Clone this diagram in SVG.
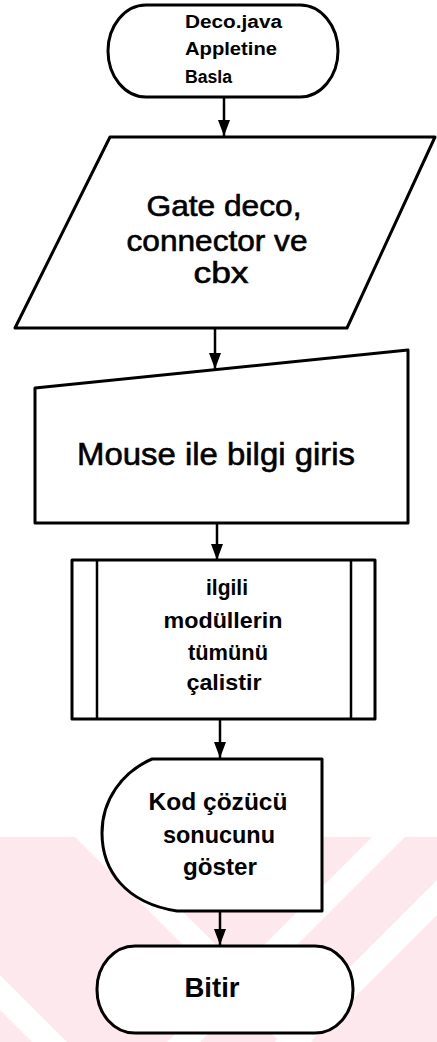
<svg xmlns="http://www.w3.org/2000/svg" width="437" height="1042" viewBox="0 0 437 1042">
<style>
.s{fill:#fff;stroke:#000;stroke-width:3;stroke-linejoin:round}
.t{font-family:"Liberation Sans",Arial,sans-serif;fill:#000}
.h{stroke:#000;stroke-width:0.6}
.b{font-weight:bold}
.c{text-anchor:middle}
.ln{stroke:#000;stroke-width:2.5;fill:none}
</style>
<defs>
<marker id="ah" viewBox="0 0 16 12" refX="16" refY="6" markerWidth="16" markerHeight="12" markerUnits="userSpaceOnUse" orient="auto">
<path d="M0,0 L16,6 L0,12 Z" fill="#000"/>
</marker>
</defs>
<rect width="437" height="1042" fill="#fff"/>
<g id="watermark">
<rect x="0" y="837" width="437" height="205" fill="#fde9ed"/>
<polygon points="75,837 108,837 313,1042 280,1042" fill="#fff"/>
<polygon points="0,975 0,1010 32,1042 67,1042" fill="#fff"/>
<polygon points="372,837 405,837 200,1042 167,1042" fill="#fff"/>
<polygon points="437,880 437,915 310,1042 275,1042" fill="#fff"/>
</g>
<g id="connectors">
<line class="ln" x1="224" y1="97" x2="224" y2="136" marker-end="url(#ah)"/>
<line class="ln" x1="215" y1="328" x2="215" y2="369" marker-end="url(#ah)"/>
<line class="ln" x1="217" y1="523" x2="217" y2="560" marker-end="url(#ah)"/>
<line class="ln" x1="220" y1="719" x2="220" y2="758" marker-end="url(#ah)"/>
<line class="ln" x1="220" y1="911" x2="220" y2="945" marker-end="url(#ah)"/>
</g>
<g id="start">
<rect class="s" x="108" y="5" width="230" height="92" rx="38" ry="46"/>
<text class="t b" font-size="18" x="185" y="28" textLength="97" lengthAdjust="spacingAndGlyphs">Deco.java</text>
<text class="t b" font-size="18" x="185" y="55" textLength="92" lengthAdjust="spacingAndGlyphs">Appletine</text>
<text class="t b" font-size="18" x="185" y="83" textLength="47" lengthAdjust="spacingAndGlyphs">Basla</text>
</g>
<g id="input">
<polygon class="s" points="110,137 435,137 347,328 15,328"/>
<text class="t h c" font-size="29" x="224" y="216" textLength="155" lengthAdjust="spacingAndGlyphs">Gate deco,</text>
<text class="t h c" font-size="29" x="217" y="251" textLength="181" lengthAdjust="spacingAndGlyphs">connector ve</text>
<text class="t h c" font-size="29" x="221" y="283" textLength="55" lengthAdjust="spacingAndGlyphs">cbx</text>
</g>
<g id="manual">
<polygon class="s" points="35,388 408,350 408,523 35,523"/>
<text class="t h c" font-size="31" x="216" y="465" textLength="278" lengthAdjust="spacingAndGlyphs">Mouse ile bilgi giris</text>
</g>
<g id="process">
<rect class="s" x="72" y="560" width="303" height="159"/>
<line class="ln" x1="97" y1="560" x2="97" y2="719" stroke-width="3"/>
<line class="ln" x1="351" y1="560" x2="351" y2="719" stroke-width="3"/>
<text class="t b c" font-size="22" x="227" y="595" textLength="42" lengthAdjust="spacingAndGlyphs">ilgili</text>
<text class="t b c" font-size="22" x="223" y="628" textLength="119" lengthAdjust="spacingAndGlyphs">modüllerin</text>
<text class="t b c" font-size="22" x="228" y="660" textLength="80" lengthAdjust="spacingAndGlyphs">tümünü</text>
<text class="t b c" font-size="22" x="224" y="690" textLength="75" lengthAdjust="spacingAndGlyphs">çalistir</text>
</g>
<g id="display">
<path class="s" d="M152,759 L322,759 L322,911 L177,911 C125,903 102,870 102,833 C102,800 122,772 152,759 Z"/>
<text class="t b c" font-size="23" x="218" y="810" textLength="139" lengthAdjust="spacingAndGlyphs">Kod çözücü</text>
<text class="t b c" font-size="23" x="219" y="843" textLength="112" lengthAdjust="spacingAndGlyphs">sonucunu</text>
<text class="t b c" font-size="23" x="220" y="875" textLength="74" lengthAdjust="spacingAndGlyphs">göster</text>
</g>
<g id="end">
<rect class="s" x="97" y="946" width="256" height="87" rx="38" ry="43"/>
<text class="t b c" font-size="28" x="212" y="997" textLength="55" lengthAdjust="spacingAndGlyphs">Bitir</text>
</g>
</svg>
